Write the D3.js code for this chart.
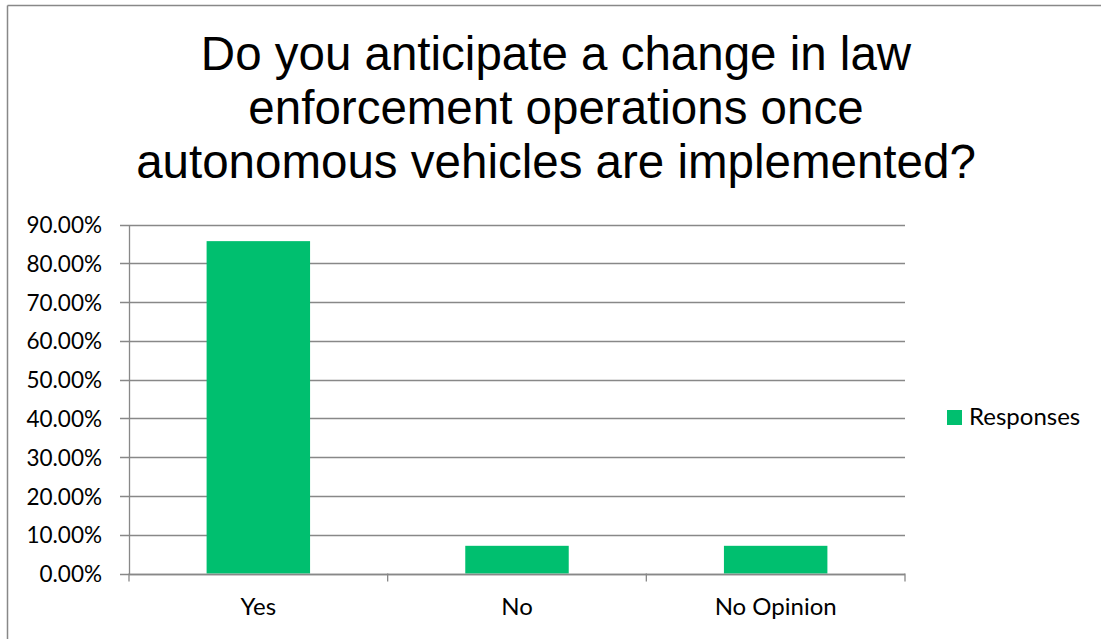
<!DOCTYPE html>
<html>
<head>
<meta charset="utf-8">
<script src="https://cdn.jsdelivr.net/npm/d3@7"></script>
<style>
  html, body { margin: 0; padding: 0; background: #fff; overflow: hidden; }
  svg { display: block; }
</style>
</head>
<body>
<svg id="chart" width="1101" height="639"></svg>
<script>
// Survey answers and their share of responses (percent)
const categories = ["Yes", "No", "No Opinion"];
const responses = [85.71, 7.14, 7.14];
const yTicks = [0, 10, 20, 30, 40, 50, 60, 70, 80, 90];
const titleLines = [
  "Do you anticipate a change in law",
  "enforcement operations once",
  "autonomous vehicles are implemented?"
];
const seriesName = "Responses";

const W = 1101, H = 639;
const plot = { left: 129, right: 905, top: 224.5, bottom: 573.5 };
const barColor = "#00BF6F";
const gridColor = "#888888";
const labelFont = "Lato, 'Open Sans', sans-serif";

const svg = d3.select("#chart");

// outer chart frame (top and left edges fall inside the canvas)
svg.append("line")
  .attr("x1", 7.5).attr("x2", W + 5).attr("y1", 5.5).attr("y2", 5.5)
  .attr("stroke", "#888").attr("stroke-width", 1.5);
svg.append("line")
  .attr("x1", 7.5).attr("x2", 7.5).attr("y1", 5.5).attr("y2", H + 5)
  .attr("stroke", "#888").attr("stroke-width", 1.5);

// title
svg.append("g").selectAll("text")
  .data(titleLines)
  .join("text")
  .attr("x", 556)
  .attr("y", (d, i) => 70 + i * 54)
  .attr("text-anchor", "middle")
  .attr("font-family", "'Liberation Sans', Arial, sans-serif")
  .attr("font-size", 47.5)
  .attr("fill", "#000")
  .text(d => d);

const x = d3.scaleBand()
  .domain(categories)
  .range([plot.left, plot.right])
  .paddingInner(0.6)
  .paddingOuter(0.3);

const y = d3.scaleLinear()
  .domain([0, 90])
  .range([plot.bottom, plot.top]);

// horizontal gridlines
svg.append("g").selectAll("line")
  .data(yTicks)
  .join("line")
  .attr("x1", plot.left - 9).attr("x2", plot.right)
  .attr("y1", d => Math.round(y(d)) + 0.5)
  .attr("y2", d => Math.round(y(d)) + 0.5)
  .attr("stroke", gridColor).attr("stroke-width", 1.3);

// y axis labels
const yAxis = d3.axisLeft(y)
  .tickValues(yTicks)
  .tickSize(0)
  .tickPadding(27)
  .tickFormat(d => d3.format(".2f")(d) + "%");
const yg = svg.append("g")
  .attr("transform", `translate(${plot.left},0)`)
  .call(yAxis);
yg.select(".domain").attr("stroke", gridColor).attr("stroke-width", 1.3);
yg.selectAll("text")
  .attr("font-family", labelFont)
  .attr("font-size", 22.5)
  .attr("fill", "#000")
  .attr("dy", "0.36em");

// bars
svg.append("g").selectAll("rect")
  .data(categories.map((c, i) => ({ c, v: responses[i] })))
  .join("rect")
  .attr("x", d => x(d.c))
  .attr("width", x.bandwidth())
  .attr("y", d => y(d.v))
  .attr("height", d => y(0) - y(d.v))
  .attr("fill", barColor);

// x axis with tick marks at category boundaries
const step = x.step();
const bounds = d3.range(categories.length + 1).map(i => plot.left + i * step);
const xg = svg.append("g");
xg.append("line")
  .attr("x1", plot.left).attr("x2", plot.right)
  .attr("y1", Math.round(y(0)) + 0.5).attr("y2", Math.round(y(0)) + 0.5)
  .attr("stroke", gridColor).attr("stroke-width", 1.3);
xg.selectAll("line.tick")
  .data(bounds)
  .join("line")
  .attr("class", "tick")
  .attr("x1", d => d).attr("x2", d => d)
  .attr("y1", y(0)).attr("y2", y(0) + 8)
  .attr("stroke", gridColor).attr("stroke-width", 1.3);
xg.selectAll("text")
  .data(categories)
  .join("text")
  .attr("x", d => x(d) + x.bandwidth() / 2)
  .attr("y", 615)
  .attr("text-anchor", "middle")
  .attr("font-family", labelFont)
  .attr("font-size", 24)
  .attr("fill", "#000")
  .text(d => d);

// legend
const lg = svg.append("g").attr("transform", "translate(947,410)");
lg.append("rect").attr("width", 15).attr("height", 15).attr("fill", barColor);
lg.append("text")
  .attr("x", 22).attr("y", 15)
  .attr("font-family", labelFont)
  .attr("font-size", 24)
  .attr("fill", "#000")
  .text(seriesName);
</script>
</body>
</html>
